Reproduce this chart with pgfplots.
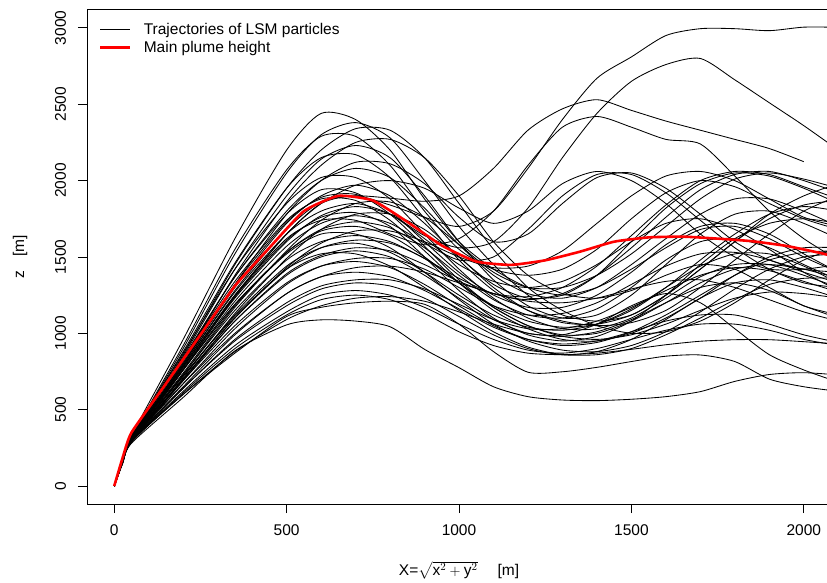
\documentclass[border=0pt]{standalone}
\usepackage{fontspec}
\setmainfont{Liberation Sans}
\usepackage{amsmath}
\usepackage{pgfplots}
\usepackage{pgfplotstable}
\pgfplotsset{compat=1.18}

% each row: one LSM particle trajectory, z [m] at the X positions of the header
\pgfplotstableread{
id 0 25 50 200 350 500 600 700 800 900 1000 1100 1200 1300 1400 1500 1600 1700 1800 1900 2000 2100
c1 0 180 330 960 1620 2200 2440 2400 2200 1880 1600 1420 1300 1250 1300 1420 1560 1680 1700 1620 1500 1400
c2 0 175 320 900 1520 2050 2300 2380 2280 2000 1700 1450 1250 1120 1080 1120 1250 1420 1600 1750 1840 1870
c3 0 170 310 860 1450 1950 2200 2340 2330 2150 1850 1550 1300 1150 1050 1000 1010 1080 1200 1350 1480 1560
c4 0 175 320 920 1550 2070 2290 2290 2100 1800 1550 1420 1380 1420 1550 1750 1920 2000 1960 1850 1750 1680
c5 0 165 300 820 1380 1860 2100 2250 2270 2150 1900 1600 1380 1260 1230 1280 1380 1450 1420 1300 1180 1120
c6 0 170 310 850 1420 1900 2140 2230 2150 1900 1600 1350 1180 1100 1120 1250 1450 1650 1780 1800 1720 1620
c7 0 175 320 880 1460 1950 2150 2170 2020 1750 1480 1280 1150 1080 1050 1070 1150 1300 1480 1650 1800 1900
c8 0 165 300 800 1320 1780 2000 2120 2110 1980 1760 1600 1650 1850 2020 2050 1950 1780 1600 1480 1420 1400
c9 0 170 310 830 1370 1800 2000 2080 2020 1820 1580 1380 1260 1230 1300 1450 1620 1780 1880 1880 1800 1700
c10 0 175 320 870 1420 1850 2020 2020 1880 1650 1420 1230 1100 1030 1030 1100 1230 1370 1450 1450 1380 1300
c11 0 160 290 760 1240 1650 1850 1970 2000 1950 1820 1720 1800 1980 2060 2000 1850 1650 1500 1420 1420 1450
c12 0 170 310 800 1300 1720 1900 1970 1900 1720 1500 1320 1230 1250 1380 1600 1820 1980 2050 2030 1950 1850
c13 0 175 320 840 1370 1780 1940 1920 1780 1570 1350 1170 1050 980 960 990 1060 1150 1230 1270 1260 1230
c14 0 165 300 780 1250 1650 1850 1900 1840 1760 1700 1800 2080 2400 2670 2810 2950 2995 2995 2982 3005 3004
c15 0 170 310 810 1320 1730 1890 1910 1800 1600 1400 1250 1170 1170 1250 1400 1580 1700 1720 1650 1520 1400
c16 0 165 300 790 1280 1680 1860 1900 1885 1865 1900 2080 2330 2470 2530 2460 2390 2330 2270 2210 2124 nan
c17 0 175 320 830 1340 1740 1880 1870 1740 1540 1330 1150 1030 960 950 1000 1100 1230 1380 1500 1560 1560
c18 0 160 290 730 1170 1540 1740 1850 1860 1760 1580 1400 1300 1300 1380 1520 1700 1880 2010 2050 2010 1950
c19 0 170 310 790 1270 1650 1800 1850 1780 1620 1450 1340 1300 1340 1450 1600 1720 1750 1680 1550 1400 1280
c20 0 165 300 770 1230 1600 1770 1830 1780 1640 1560 1600 1820 2150 2440 2650 2760 2800 2660 2510 2360 2200
c21 0 170 310 780 1240 1610 1760 1790 1700 1500 1280 1100 990 950 980 1080 1250 1450 1620 1720 1750 1720
c22 0 160 290 710 1130 1490 1680 1780 1780 1680 1500 1300 1150 1070 1060 1120 1250 1420 1600 1780 1900 1980
c23 0 165 300 760 1210 1570 1720 1770 1720 1590 1480 1500 1680 1900 2040 2040 1920 1740 1560 1420 1330 1300
c24 0 170 310 780 1250 1620 1740 1740 1650 1580 1620 1800 2100 2350 2420 2350 2270 2240 2030 1800 1620 1480
c25 0 165 300 740 1180 1530 1680 1730 1690 1560 1380 1220 1120 1100 1160 1300 1480 1600 1620 1560 1450 1350
c26 0 170 310 760 1190 1530 1670 1700 1640 1500 1330 1180 1080 1040 1060 1150 1300 1480 1650 1780 1830 1800
c27 0 160 290 700 1100 1430 1590 1670 1670 1600 1500 1430 1440 1540 1720 1900 2030 2060 2000 1880 1760 1700
c28 0 170 310 760 1190 1520 1650 1650 1560 1400 1220 1060 950 890 880 920 1010 1140 1290 1420 1500 1520
c29 0 165 300 730 1150 1480 1600 1640 1600 1490 1360 1260 1220 1260 1380 1560 1760 1940 2040 2060 2000 1920
c30 0 160 290 700 1100 1420 1560 1610 1590 1490 1330 1170 1050 990 1000 1080 1200 1330 1420 1450 1420 1360
c31 0 165 300 720 1120 1440 1560 1590 1530 1400 1250 1120 1040 1020 1060 1160 1300 1440 1520 1520 1440 1330
c32 0 160 290 690 1080 1390 1510 1560 1540 1450 1340 1260 1240 1300 1440 1640 1840 2000 2060 2040 1960 1880
c33 0 165 300 720 1110 1420 1520 1520 1440 1300 1150 1010 910 860 860 900 990 1100 1220 1320 1360 1360
c34 0 160 290 670 1030 1320 1440 1490 1490 1420 1300 1180 1120 1130 1200 1320 1440 1520 1530 1480 1400 1330
c35 0 165 300 690 1050 1330 1440 1470 1430 1320 1180 1050 960 920 940 1010 1120 1250 1380 1480 1530 1540
c36 0 160 290 650 990 1260 1370 1430 1440 1400 1330 1260 1210 1200 1230 1290 1340 1350 1300 1220 1140 1080
c37 0 165 300 670 1000 1260 1370 1400 1370 1280 1160 1040 960 930 950 1010 1080 1120 1120 1060 990 940
c38 0 160 290 640 960 1200 1310 1350 1350 1290 1190 1090 1030 1030 1080 1170 1280 1380 1430 1410 1340 1270
c39 0 160 290 640 950 1180 1290 1330 1310 1230 1110 990 900 860 880 960 1090 1230 1330 1350 1300 1230
c40 0 160 290 620 920 1140 1250 1280 1250 1170 1060 960 890 870 900 960 1020 1060 1060 1020 960 920
c41 0 155 290 600 880 1090 1180 1230 1240 1210 1140 1060 1000 980 1010 1090 1200 1300 1330 1280 1180 1100
c42 0 155 290 600 870 1110 1170 1200 1210 1190 1060 880 745 748 777 815 850 858 815 700 650 620
c43 0 150 280 580 885 1055 1088 1080 1043 895 775 650 585 563 559 568 585 618 685 730 742 727
c44 0 155 290 610 900 1120 1220 1250 1220 1130 1010 920 870 860 870 895 925 948 958 958 945 930
c45 0 165 300 700 1080 1380 1500 1540 1500 1380 1230 1090 1000 990 1060 1180 1260 1200 1030 860 760 680
}\rawtraj
\pgfplotstabletranspose[colnames from=id, input colnames to=x]{\traj}{\rawtraj}

\begin{document}
\begin{tikzpicture}
\begin{axis}[
  at={(0,0)}, anchor=south west,
  scale only axis, width=744pt, height=494.7pt,
  xmin=-79, xmax=2079, ymin=-118, ymax=3122,
  xtick={0,500,1000,1500,2000}, xticklabels={0,500,1000,1500,2000},
  ytick={0,500,1000,1500,2000,2500,3000}, yticklabels={0,500,1000,1500,2000,2500,3000},
  tick align=outside, major tick length=9pt, tick pos=left,
  every tick/.style={black, line width=0.9pt},
  axis line style={black, line width=0.9pt},
  ticklabel style={font=\fontsize{15.5}{18}\selectfont},
  xticklabel shift=8pt,
  yticklabel style={rotate=90, anchor=base},
  yticklabel shift=12pt,
  every axis x label/.style={at={(axis description cs:0.5,0)}, yshift=-71pt, anchor=base, font=\fontsize{15.5}{18}\selectfont},
  every axis y label/.style={at={(axis description cs:0,0.5)}, xshift=-67pt, rotate=90, anchor=center, font=\fontsize{15.5}{18}\selectfont},
  xlabel={X=$\sqrt{\text{x}^{2}+\text{y}^{2}}$\hspace{20pt}[m]},
  ylabel={z\hspace{14pt}[m]},
  legend cell align=left,
  legend image code/.code={\draw[#1] (0pt,0pt) -- (30pt,0pt);},
  legend style={draw=none, fill=none, at={(0,1)}, anchor=north west, xshift=9pt, yshift=-10pt,
    font=\fontsize{15.5}{18}\selectfont, row sep=1pt, column sep=10pt, nodes={inner sep=2pt}},
  traj/.style={black, line width=0.85pt, smooth, tension=0.45},
]
\addplot[traj] table[x=x, y=c1] {\traj};
\addlegendentry{Trajectories of LSM particles}
\pgfplotsinvokeforeach{2,...,45}{
  \addplot[traj, forget plot] table[x=x, y=c#1] {\traj};
}
\addplot[red, line width=2.6pt, smooth, tension=0.3] coordinates {
(0,0)(25,190)(50,350)(150,670)(250,990)(350,1310)(450,1560)(550,1800)(650,1900)(750,1870)
(850,1730)(950,1575)(1050,1470)(1150,1448)(1250,1478)(1350,1534)(1450,1600)(1550,1628)
(1650,1633)(1750,1620)(1850,1603)(1950,1572)(2050,1525)(2100,1495)};
\addlegendentry{Main plume height}
\end{axis}
\pgfresetboundingbox
\path[use as bounding box] (-87pt,-79pt) rectangle (740pt,504pt);
\end{tikzpicture}
\end{document}
